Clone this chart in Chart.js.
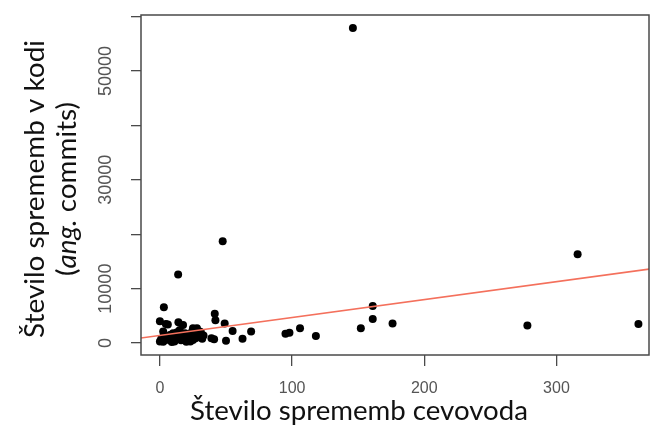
<!DOCTYPE html>
<html>
<head>
<meta charset="utf-8">
<script src="https://cdn.jsdelivr.net/npm/chart.js@4.4.0/dist/chart.umd.min.js"></script>
<style>
  html, body { margin: 0; padding: 0; background: #fff; }
  #wrap { width: 653px; height: 426px; }
</style>
</head>
<body>
<div id="wrap"><canvas id="chart" width="653" height="426"></canvas></div>
<script>
// x: pipeline changes, y: code changes (commits)
const pipelineChanges = [
  146, 47.5, 13.8, 316, 161, 161, 152, 176, 278, 362, 118, 106, 98, 95,
  3, 0, 4.5, 14, 41.5, 42, 49, 55, 69, 62.5, 50, 41, 39, 28, 30, 25, 17.5, 6, 2.5,
  0, 1, 2.5, 4, 5, 7.5, 8, 10, 11, 12.5, 14, 15, 16, 17.5, 19, 20, 21, 22.5, 24, 25,
  26, 28, 30, 31, 32, 6, 3, 9, 13, 18, 23, 27, 33
];
const codeChanges = [
  57900, 18700, 12600, 16300, 6800, 4400, 2700, 3600, 3200, 3500, 1300, 2700, 1900, 1700,
  6600, 4000, 3500, 3800, 5400, 4200, 3600, 2200, 2100, 800, 400, 700, 900, 2700, 2100, 2700, 3300, 3400, 2100,
  300, 800, 250, 1200, 600, 550, 1500, 1800, 300, 900, 1300, 2400, 500, 1150, 1800, 250, 900, 1500, 2000, 550,
  1200, 1700, 1150, 2000, 800, 1000, 1600, 200, 2000, 600, 300, 900, 1400
];

// regression line end points
const fitX = [-15, 372];
const fitY = [900, 13650];

const xTicks = [0, 100, 200, 300];
const yTicks = [0, 10000, 20000, 30000, 40000, 50000, 60000];
const yTickLabels = [0, 10000, 30000, 50000];

const xTitle = "Število sprememb cevovoda";
const yTitle1 = "Število sprememb v kodi";
const yTitle2 = ["(", "ang.", " commits)"];

const points = pipelineChanges.map((x, i) => ({ x: x, y: codeChanges[i] }));
const fitLine = fitX.map((x, i) => ({ x: x, y: fitY[i] }));

// fit font size so a text gets the wanted length
function fitFont(ctx, text, family, style, target) {
  ctx.font = style + " 20px " + family;
  return 20 * target / ctx.measureText(text).width;
}

const boxAndTitles = {
  id: "boxAndTitles",
  afterDraw(chart) {
    const ctx = chart.ctx;
    const a = chart.chartArea;
    ctx.save();
    ctx.strokeStyle = "#4a4a4a";
    ctx.lineWidth = 1.5;
    ctx.strokeRect(a.left, a.top, a.right - a.left, a.bottom - a.top);

    const fam = "Lato, 'DejaVu Sans', sans-serif";
    ctx.fillStyle = "#111";

    // x title
    let size = fitFont(ctx, xTitle, fam, "normal", 338);
    ctx.font = size + "px " + fam;
    ctx.textAlign = "center";
    ctx.textBaseline = "alphabetic";
    ctx.fillText(xTitle, 359, 420);

    // y title, two lines, rotated
    size = fitFont(ctx, yTitle1, fam, "normal", 298);
    ctx.translate(0, 189);
    ctx.rotate(-Math.PI / 2);
    ctx.font = size + "px " + fam;
    ctx.fillText(yTitle1, 0, 44);

    const fonts = ["normal", "italic", "normal"];
    let total = 0;
    const widths = yTitle2.map((t, i) => {
      ctx.font = fonts[i] + " " + size + "px " + fam;
      const w = ctx.measureText(t).width;
      total += w;
      return w;
    });
    let pos = -total / 2;
    ctx.textAlign = "left";
    yTitle2.forEach((t, i) => {
      ctx.font = fonts[i] + " " + size + "px " + fam;
      ctx.fillText(t, pos, 76);
      pos += widths[i];
    });
    ctx.restore();
  }
};

new Chart(document.getElementById("chart"), {
  type: "scatter",
  data: {
    datasets: [
      {
        data: fitLine,
        showLine: true,
        borderColor: "#f4705c",
        borderWidth: 1.6,
        pointRadius: 0,
        order: 0
      },
      {
        data: points,
        backgroundColor: "#000",
        borderWidth: 0,
        pointRadius: 4,
        order: 1
      }
    ]
  },
  options: {
    responsive: false,
    animation: false,
    layout: { padding: { top: 15, right: 1, left: 0, bottom: 0 } },
    plugins: { legend: { display: false }, tooltip: { enabled: false } },
    scales: {
      x: {
        type: "linear",
        min: -14.3,
        max: 370,
        afterBuildTicks: s => { s.ticks = xTicks.map(v => ({ value: v })); },
        afterFit: s => { s.height = 71; },
        border: { display: false },
        grid: { drawOnChartArea: false, drawTicks: true, tickLength: 11, color: "#4a4a4a", lineWidth: 1.3 },
        ticks: {
          autoSkip: false,
          maxRotation: 0,
          padding: 13,
          color: "#555",
          font: { family: "'Liberation Sans', Arial, sans-serif", size: 16 }
        }
      },
      y: {
        min: -2200,
        max: 60300,
        afterBuildTicks: s => { s.ticks = yTicks.map(v => ({ value: v })); },
        afterFit: s => { s.width = 141; },
        border: { display: false },
        grid: { drawOnChartArea: false, drawTicks: true, tickLength: 10, color: "#4a4a4a", lineWidth: 1.3 },
        ticks: {
          autoSkip: false,
          minRotation: 90,
          maxRotation: 90,
          crossAlign: "center",
          padding: 0,
          color: "#555",
          font: { family: "'Liberation Sans', Arial, sans-serif", size: 18 },
          callback: v => yTickLabels.includes(v) ? String(v) : ""
        }
      }
    }
  },
  plugins: [boxAndTitles]
});
</script>
</body>
</html>
